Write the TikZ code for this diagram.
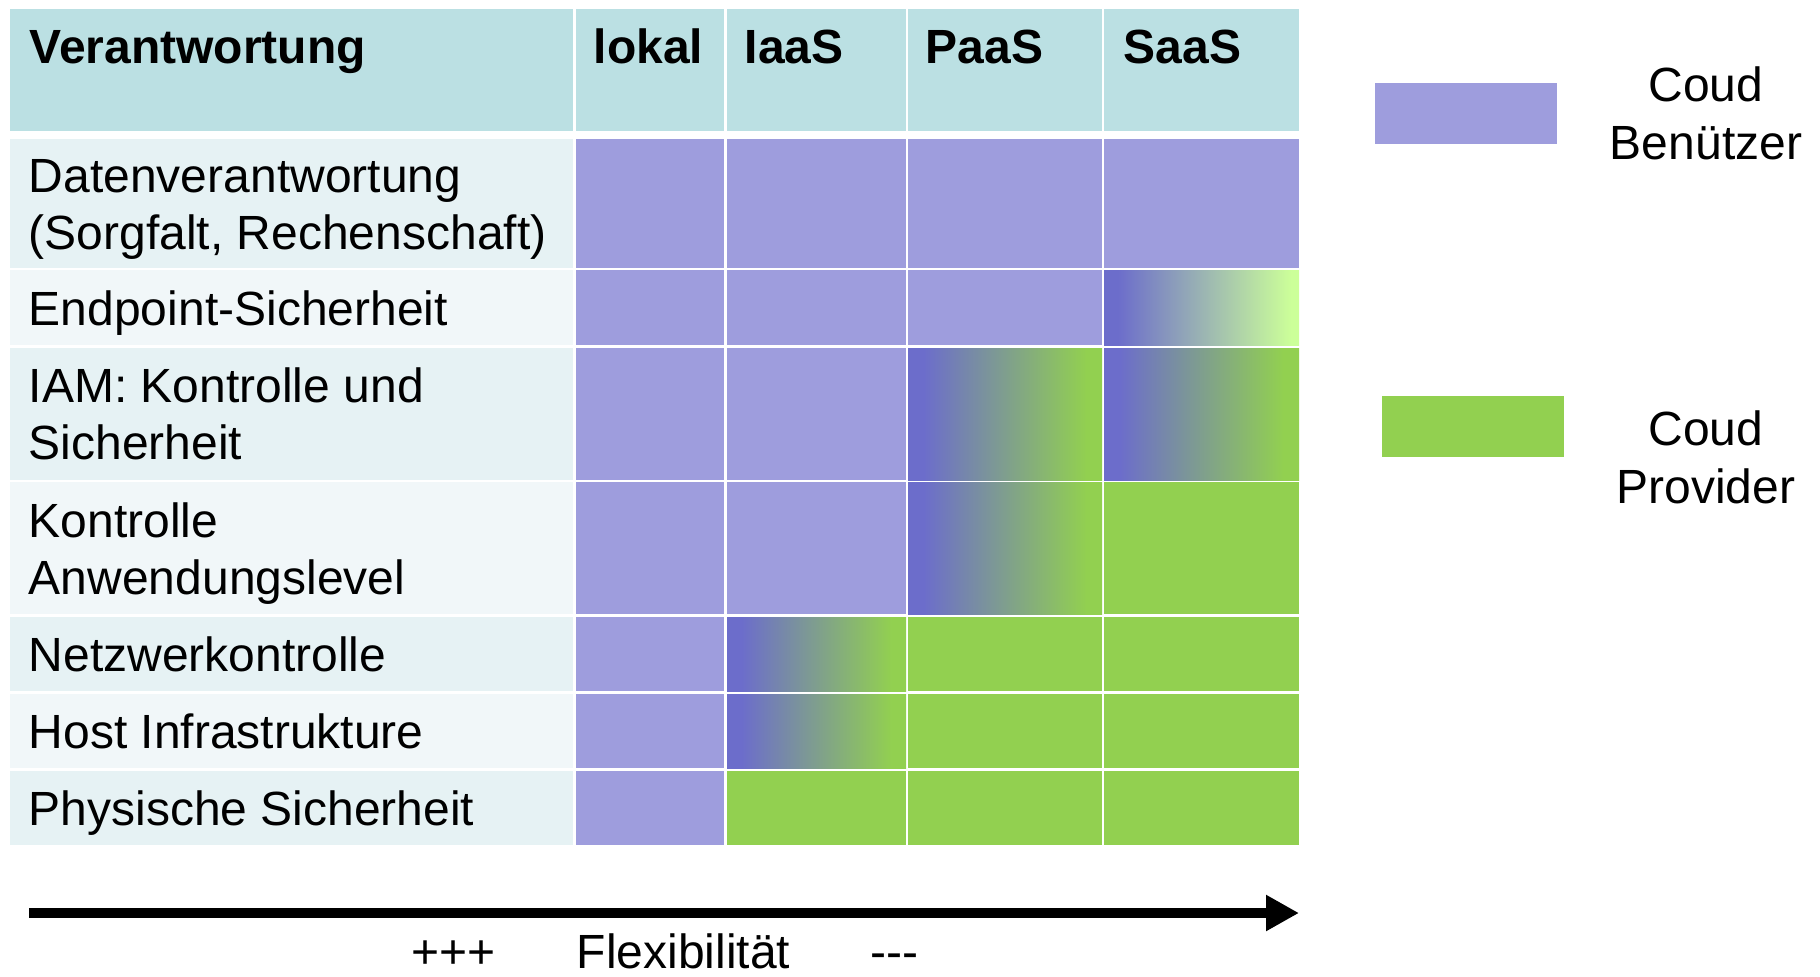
\documentclass[tikz,border=0pt]{standalone}
\usepackage{fontspec}
\setmainfont{Liberation Sans}
\usetikzlibrary{arrows.meta}

\definecolor{headbg}{HTML}{BBE0E3}
\definecolor{rowA}{HTML}{E6F2F4}
\definecolor{rowB}{HTML}{F1F7F9}
\definecolor{userc}{HTML}{9E9DDD}
\definecolor{provc}{HTML}{92D050}
\definecolor{userdark}{HTML}{6C6DCB}
\definecolor{provlight}{HTML}{CCFF99}

% shared responsibility: user colour fading into provider colour
% (the middle 25bp..75bp of a shading covers the filled cell)
\pgfdeclarehorizontalshading{sharedfade}{100bp}{color(0bp)=(userdark); color(29bp)=(userdark); color(71bp)=(provc); color(100bp)=(provc)}
\pgfdeclarehorizontalshading{endpointfade}{100bp}{color(0bp)=(userdark); color(28.5bp)=(userdark); color(73bp)=(provlight); color(100bp)=(provlight)}

\tikzset{
  txt/.style={font=\fontsize{24}{29}\selectfont, inner sep=0pt, anchor=base west},
  headtxt/.style={txt, font=\fontsize{24}{29}\selectfont\bfseries},
  legtxt/.style={font=\fontsize{24}{29}\selectfont, inner sep=0pt, anchor=base},
  usercell/.style={fill=userc},
  provcell/.style={fill=provc},
  fadecell/.style={shading=sharedfade},
  endcell/.style={shading=endpointfade},
}

\begin{document}
\begin{tikzpicture}[x=0.5pt, y=-0.5pt]
\useasboundingbox (0,0) rectangle (1820,976);

% header row
\fill[headbg] (10,9) rectangle (573,131);
\fill[headbg] (576,9) rectangle (724,131);
\fill[headbg] (727,9) rectangle (906,131);
\fill[headbg] (908,9) rectangle (1102,131);
\fill[headbg] (1104,9) rectangle (1299,131);

\node[headtxt] (hVer) at (29.5,63) {Verantwortung};
\node[headtxt] (hLok) at (593.5,63) {lokal};
\node[headtxt] (hIaa) at (744.5,63) {IaaS};
\node[headtxt] (hPaa) at (925.5,63) {PaaS};
\node[headtxt] (hSaa) at (1123.5,63) {SaaS};

% label column backgrounds
\fill[rowA] (10,139) rectangle (573,268);
\fill[rowB] (10,270) rectangle (573,345);
\fill[rowA] (10,348) rectangle (573,480);
\fill[rowB] (10,482) rectangle (573,614);
\fill[rowA] (10,617) rectangle (573,691);
\fill[rowB] (10,694) rectangle (573,768);
\fill[rowA] (10,771) rectangle (573,845);

% row 1: Datenverantwortung
\fill[usercell] (576,139) rectangle (724,268);
\fill[usercell] (727,139) rectangle (906,268);
\fill[usercell] (908,139) rectangle (1102,268);
\fill[usercell] (1104,139) rectangle (1299,268);
% row 2: Endpoint
\fill[usercell] (576,270) rectangle (724,345);
\fill[usercell] (727,270) rectangle (906,345);
\fill[usercell] (908,270) rectangle (1102,345);
\shade[endcell] (1104,270) rectangle (1299,345);
% row 3: IAM
\fill[usercell] (576,348) rectangle (724,480);
\fill[usercell] (727,348) rectangle (906,480);
\shade[fadecell] (908,348) rectangle (1102,480);
\shade[fadecell] (1104,348) rectangle (1299,480);
% row 4: Anwendungslevel
\fill[usercell] (576,482) rectangle (724,614);
\fill[usercell] (727,482) rectangle (906,614);
\shade[fadecell] (908,482) rectangle (1102,614);
\fill[provcell] (1104,482) rectangle (1299,614);
% row 5: Netzwerk
\fill[usercell] (576,617) rectangle (724,691);
\shade[fadecell] (727,617) rectangle (906,691);
\fill[provcell] (908,617) rectangle (1102,691);
\fill[provcell] (1104,617) rectangle (1299,691);
% row 6: Host
\fill[usercell] (576,694) rectangle (724,768);
\shade[fadecell] (727,694) rectangle (906,768);
\fill[provcell] (908,694) rectangle (1102,768);
\fill[provcell] (1104,694) rectangle (1299,768);
% row 7: physisch
\fill[usercell] (576,771) rectangle (724,845);
\fill[provcell] (727,771) rectangle (906,845);
\fill[provcell] (908,771) rectangle (1102,845);
\fill[provcell] (1104,771) rectangle (1299,845);

% row labels
\node[txt] (r1a) at (28.5,192) {Datenverantwortung};
\node[txt] (r1b) at (28.5,249) {(Sorgfalt, Rechenschaft)};
\node[txt] (r2) at (28.5,325) {Endpoint-Sicherheit};
\node[txt] (r3a) at (28.5,402) {IAM: Kontrolle und};
\node[txt] (r3b) at (28.5,459) {Sicherheit};
\node[txt] (r4a) at (28.5,537) {Kontrolle};
\node[txt] (r4b) at (28.5,594) {Anwendungslevel};
\node[txt] (r5) at (28.5,671) {Netzwerkontrolle};
\node[txt] (r6) at (28.5,748) {Host Infrastrukture};
\node[txt] (r7) at (28.5,825) {Physische Sicherheit};

% legend
\fill[usercell] (1375,83) rectangle (1557,144);
\fill[provcell] (1382,396) rectangle (1564,457);
\node[legtxt] (lgU1) at (1706,101) {Coud};
\node[legtxt] (lgU2) at (1706,159) {Benützer};
\node[legtxt] (lgP1) at (1706,445) {Coud};
\node[legtxt] (lgP2) at (1706,503) {Provider};

% flexibility axis
\coordinate (flexA) at (29,913);
\coordinate (flexB) at (1299,913);
\draw[line width=5pt, -{Triangle[length=16.5pt, width=17pt]}] (flexA) -- (flexB);
\node[txt] (fPlus) at (411,968) {+++};
\node[txt] (fLab) at (576.5,968) {Flexibilität};
\node[txt] (fMin) at (870,968) {-\kern0pt-\kern0pt-};
\end{tikzpicture}
\end{document}
